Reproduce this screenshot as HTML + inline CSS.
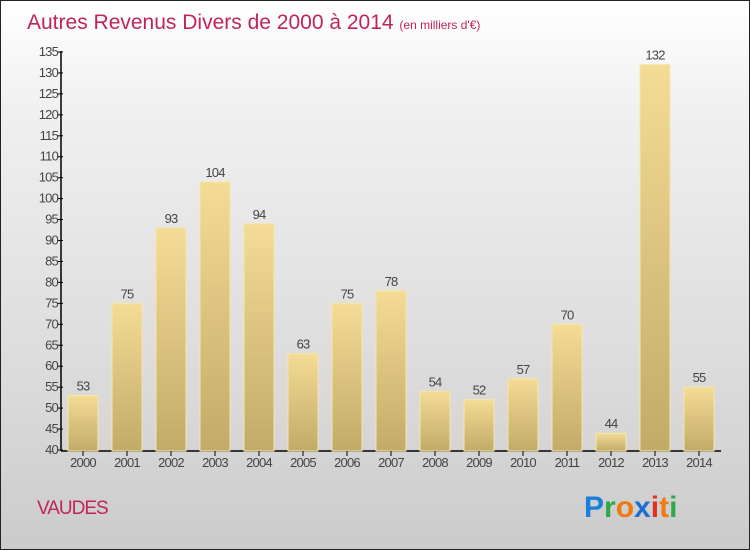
<!DOCTYPE html>
<html><head><meta charset="utf-8"><style>
body{margin:0}
#c{position:relative;width:748px;height:548px;border:1px solid #222;background:linear-gradient(#fff,#f0f0f0 20%,#d8d8d8 75%,#cbcbcb);font-family:"Liberation Sans",sans-serif;overflow:hidden}
</style></head><body>
<div id="c">
<svg id="s" width="748" height="548">
<defs><linearGradient id="g" x1="0" y1="0" x2="0" y2="1"><stop offset="0" stop-color="#f4dc96"/><stop offset="1" stop-color="#c2aa68"/></linearGradient></defs>
<text x="26" y="28" font-size="21" fill="#c0245a">Autres Revenus Divers de 2000 à 2014 <tspan font-size="12">(en milliers d'€)</tspan></text>
<text x="36" y="513" font-size="19" fill="#c0245a" letter-spacing="-1">VAUDES</text>
<g font-size="30" font-weight="bold" font-family="Liberation Sans, sans-serif">
<text x="583" y="516"><tspan fill="#1a7fd8">P</tspan><tspan fill="#2fa84a">r</tspan><tspan fill="#f07a10">o</tspan><tspan fill="#1a6fd0">x</tspan><tspan fill="#e03020">i</tspan><tspan fill="#f07a10">t</tspan><tspan fill="#2fa84a">i</tspan></text>
</g>
</svg>
</div>
<script>
const years=["2000","2001","2002","2003","2004","2005","2006","2007","2008","2009","2010","2011","2012","2013","2014"];
const values=[53,75,93,104,94,63,75,78,54,52,57,70,44,132,55];
const yTicks=[40,45,50,55,60,65,70,75,80,85,90,95,100,105,110,115,120,125,130,135];
const s=document.getElementById('s');const NS='http://www.w3.org/2000/svg';
function y(v){return 449-(v-40)*(398/95);}
function x(i){return 82+i*44;}
function mk(t,a,txt){const e=document.createElementNS(NS,t);for(const k in a)e.setAttribute(k,a[k]);if(txt!=null)e.textContent=txt;s.appendChild(e);return e;}
let ax=mk('line',{x1:60,y1:y(135)-1,x2:60,y2:450,stroke:'#000','stroke-width':1.5});


let bx=mk('line',{x1:60,y1:450,x2:720,y2:450,stroke:'#000','stroke-width':1.5});


yTicks.forEach(v=>{
 const t=mk('line',{x1:56,y1:y(v),x2:62,y2:y(v),stroke:'#000'});
 
 
 const l=mk('text',{x:57,y:y(v)+4,'font-size':13,'text-anchor':'end',fill:'#444','letter-spacing':'-0.8'},v);
 
 
});
years.forEach((yr,i)=>{
 const v=values[i],cx=x(i);
 const r=mk('rect',{x:cx-15,y:y(v),width:30,height:450-y(v),fill:'url(#g)',stroke:'#f6e6a8','stroke-width':1});
 
 
 const t=mk('line',{x1:cx,y1:450,x2:cx,y2:455,stroke:'#000'});
 
 
 const l=mk('text',{x:cx,y:466,'font-size':13,'text-anchor':'middle',fill:'#444','letter-spacing':'-0.8'},yr);
 
 
 const vl=mk('text',{x:cx,y:y(v)-5,'font-size':13,'text-anchor':'middle',fill:'#444','letter-spacing':'-0.8'},v);
 
 
});
</script>
</body></html>
